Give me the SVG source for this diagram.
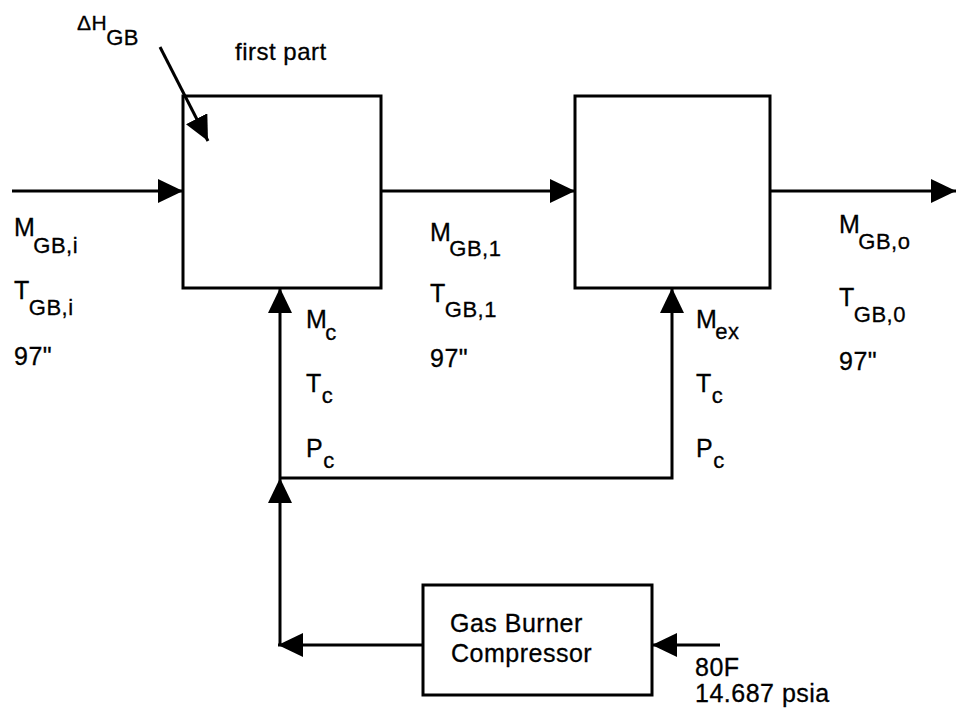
<svg xmlns="http://www.w3.org/2000/svg" width="957" height="715" viewBox="0 0 957 715">
  <style>
    .box { fill: none; stroke: #000; stroke-width: 3; }
    .ln { fill: none; stroke: #000; stroke-width: 3; }
    text { font-family: "Liberation Sans", Arial, sans-serif; font-size: 25px; fill: #000; letter-spacing: 0.5px; stroke: #000; stroke-width: 0.3px; }
    .sub { font-size: 22px; }
  </style>
  <defs>
    <marker id="arr" markerUnits="userSpaceOnUse" markerWidth="26" markerHeight="24" refX="25" refY="12" orient="auto">
      <path d="M0,0 L25,12 L0,24 Z" fill="#000"/>
    </marker>
  </defs>
  <rect width="957" height="715" fill="#fff"/>

  <g id="connectors">
    <line class="ln" x1="12" y1="191" x2="183" y2="191" marker-end="url(#arr)"/>
    <line class="ln" x1="381" y1="191" x2="575" y2="191" marker-end="url(#arr)"/>
    <line class="ln" x1="770" y1="191" x2="956" y2="191" marker-end="url(#arr)"/>
    <line class="ln" x1="160" y1="47" x2="208" y2="141" marker-end="url(#arr)"/>
    <line class="ln" x1="280" y1="478" x2="280" y2="288" marker-end="url(#arr)"/>
    <line class="ln" x1="280" y1="645" x2="280" y2="478" marker-end="url(#arr)"/>
    <polyline class="ln" points="280,478 672,478 672,288" marker-end="url(#arr)"/>
    <line class="ln" x1="423" y1="645" x2="278" y2="645" marker-end="url(#arr)"/>
    <line class="ln" x1="720" y1="645" x2="652" y2="645" marker-end="url(#arr)"/>
  </g>

  <g id="box1">
    <rect class="box" x="183" y="96" width="198" height="192"/>
    <text x="235" y="60" style="font-size:24px">first part</text>
  </g>
  <g id="box2">
    <rect class="box" x="575" y="96" width="195" height="192"/>
  </g>
  <g id="box3">
    <rect class="box" x="423" y="585" width="229" height="110"/>
    <text x="450" y="632">Gas Burner</text>
    <text x="451" y="662">Compressor</text>
  </g>

  <g id="heat-label">
    <text x="77" y="30" style="font-size:21px">ΔH<tspan class="sub" dx="-1" y="45">GB</tspan></text>
  </g>

  <g id="inlet-labels">
    <text x="14" y="236">M<tspan class="sub" dx="-2" y="253">GB,i</tspan></text>
    <text x="14" y="299">T<tspan class="sub" dx="-1" y="315">GB,i</tspan></text>
    <text x="14" y="365">97"</text>
  </g>
  <g id="mid-labels">
    <text x="430" y="241">M<tspan class="sub" dx="-2" y="256">GB,1</tspan></text>
    <text x="430" y="302">T<tspan class="sub" dx="-1" y="317">GB,1</tspan></text>
    <text x="430" y="367">97"</text>
  </g>
  <g id="outlet-labels">
    <text x="839" y="233">M<tspan class="sub" dx="-2" y="249">GB,o</tspan></text>
    <text x="839" y="306">T<tspan class="sub" dx="-1" y="322">GB,0</tspan></text>
    <text x="839" y="370">97"</text>
  </g>
  <g id="c-labels">
    <text x="306" y="328">M<tspan class="sub" dx="-2" y="340">c</tspan></text>
    <text x="306" y="392">T<tspan class="sub" dx="0" y="403">c</tspan></text>
    <text x="306" y="457">P<tspan class="sub" dx="0" y="468">c</tspan></text>
  </g>
  <g id="ex-labels">
    <text x="696" y="328">M<tspan class="sub" dx="-2" y="339">ex</tspan></text>
    <text x="696" y="392">T<tspan class="sub" dx="0" y="403">c</tspan></text>
    <text x="696" y="457">P<tspan class="sub" dx="0" y="468">c</tspan></text>
  </g>
  <g id="feed-label">
    <text x="695" y="676">80F</text>
    <text x="695" y="702">14.687 psia</text>
  </g>
</svg>
